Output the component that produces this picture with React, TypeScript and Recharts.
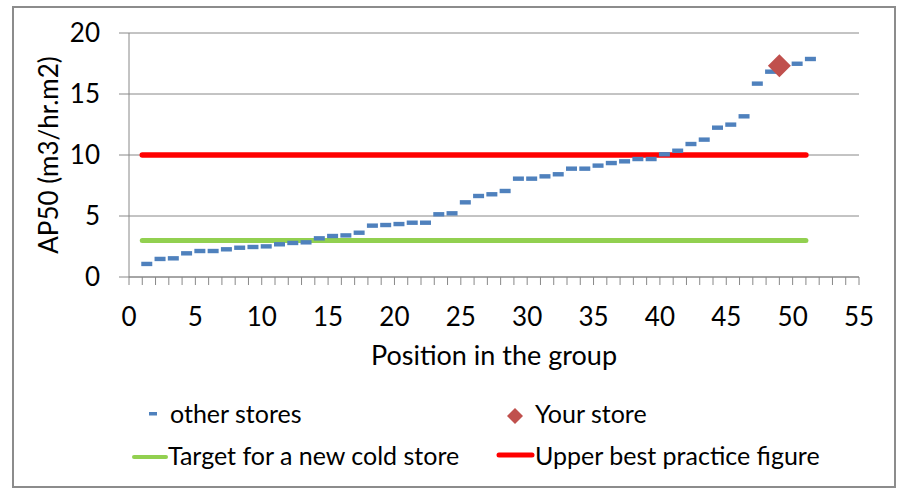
import React from 'react'
import {
  ComposedChart,
  XAxis,
  YAxis,
  CartesianGrid,
  Scatter,
  Line,
  Legend,
  Label,
} from 'recharts'

// position in the group -> AP50 (m3/hr.m2)
const positions = [
  1, 2, 3, 4, 5, 6, 7, 8, 9, 10, 11, 12, 13, 14, 15, 16, 17, 18, 19, 20, 21,
  22, 23, 24, 25, 26, 27, 28, 29, 30, 31, 32, 33, 34, 35, 36, 37, 38, 39, 40,
  41, 42, 43, 44, 45, 46, 47, 48, 50, 51,
]
const otherStores = [
  1.07, 1.48, 1.53, 1.94, 2.13, 2.13, 2.27, 2.4, 2.46, 2.51, 2.68, 2.79, 2.84,
  3.17, 3.36, 3.41, 3.63, 4.21, 4.26, 4.34, 4.45, 4.45, 5.14, 5.22, 6.12, 6.64,
  6.78, 7.05, 8.06, 8.06, 8.25, 8.42, 8.88, 8.88, 9.13, 9.34, 9.48, 9.67, 9.67,
  10.06, 10.35, 10.9, 11.26, 12.24, 12.49, 13.17, 15.85, 16.83, 17.48, 17.87,
]
const yourPosition = [49]
const yourStore = [17.32]

const lineX = [1, 51]
const targetValues = [3, 3]
const upperValues = [10, 10]

const xTicks = Array.from({ length: 56 }, (_, i) => i)
const yTicks = [0, 5, 10, 15, 20]

const BLUE = '#4F81BD'
const RED = '#FF0000'
const GREEN = '#92D050'
const DIAMOND = '#C0504D'
const GRID = '#888888'
const FONT = 'Lato, "Open Sans", sans-serif'

const otherData = positions.map((x, i) => ({ x, y: otherStores[i] }))
const yourData = yourPosition.map((x, i) => ({ x, y: yourStore[i] }))
const targetData = lineX.map((x, i) => ({ x, y: targetValues[i] }))
const upperData = lineX.map((x, i) => ({ x, y: upperValues[i] }))

const DashShape = (props: any) => {
  const { cx, cy } = props
  return <rect x={cx - 1} y={cy - 2.2} width={11} height={4.4} fill={BLUE} />
}

const DiamondShape = (props: any) => {
  const { cx, cy } = props
  const r = 11.5
  return (
    <polygon
      points={`${cx},${cy - r} ${cx + r},${cy} ${cx},${cy + r} ${cx - r},${cy}`}
      fill={DIAMOND}
    />
  )
}

const XTick = (props: any) => {
  const { x, y, payload } = props
  if (payload.value % 5 !== 0) return <g />
  return (
    <text
      x={x}
      y={y}
      dy="0.71em"
      textAnchor="middle"
      fill="#000"
      fontSize={26}
      fontFamily={FONT}
    >
      {payload.value}
    </text>
  )
}

const XTitle = (props: any) => {
  const { viewBox } = props
  return (
    <text
      x={viewBox.x + viewBox.width / 2}
      y={viewBox.y + 88}
      textAnchor="middle"
      fill="#000"
      fontSize={27}
      fontFamily={FONT}
    >
      Position in the group
    </text>
  )
}

const YTitle = (props: any) => {
  const { viewBox } = props
  const cx = 58
  const cy = viewBox.y + viewBox.height / 2
  return (
    <text
      x={cx}
      y={cy}
      transform={`rotate(-90 ${cx} ${cy})`}
      textAnchor="middle"
      fill="#000"
      fontSize={26}
      fontFamily={FONT}
    >
      AP50 (m3/hr.m2)
    </text>
  )
}

const renderLegend = () => (
  <svg width={917} height={100} style={{ display: 'block' }}>
    <g fontFamily={FONT} fontSize={25} fill="#000">
      <rect x={149} y={25} width={8} height={3.5} fill={BLUE} />
      <text x={170} y={36}>other stores</text>
      <polygon points="515,21 523,29 515,37 507,29" fill={DIAMOND} />
      <text x={535} y={36}>Your store</text>
      <line x1={134} y1={70} x2={166} y2={70} stroke={GREEN} strokeWidth={4} strokeLinecap="round" />
      <text x={168} y={78}>Target for a new cold store</text>
      <line x1={499} y1={68} x2={532} y2={68} stroke={RED} strokeWidth={5} strokeLinecap="round" />
      <text x={535} y={78}>Upper best practice figure</text>
    </g>
  </svg>
)

export default function App() {
  return (
    <div
      style={{
        position: 'absolute',
        left: 0,
        top: 0,
        width: 917,
        height: 496,
        background: '#fff',
        fontFamily: FONT,
      }}
    >
      <div
        style={{
          position: 'absolute',
          left: 12,
          top: 6,
          width: 884,
          height: 482,
          boxSizing: 'border-box',
          border: '2px solid #8c8c8c',
        }}
      />
      <div style={{ position: 'absolute', left: 0, top: 0 }}>
        <ComposedChart
          width={917}
          height={496}
          margin={{ top: 33, right: 58, left: 0, bottom: 9 }}
        >
          <CartesianGrid vertical={false} stroke={GRID} />
          <XAxis
            type="number"
            dataKey="x"
            domain={[0, 55]}
            ticks={xTicks}
            interval={0}
            height={110}
            tickSize={8}
            tickMargin={23}
            tick={<XTick />}
            axisLine={{ stroke: GRID }}
            tickLine={{ stroke: GRID }}
            allowDataOverflow
          >
            <Label content={<XTitle />} />
          </XAxis>
          <YAxis
            type="number"
            dataKey="y"
            domain={[0, 20]}
            ticks={yTicks}
            interval={0}
            width={129}
            tickSize={10}
            tickMargin={19}
            tick={{ fill: '#000', fontSize: 26, fontFamily: FONT }}
            axisLine={{ stroke: GRID }}
            tickLine={{ stroke: GRID }}
          >
            <Label content={<YTitle />} />
          </YAxis>
          <Legend
            verticalAlign="bottom"
            content={renderLegend}
            wrapperStyle={{ left: 0, width: 917, bottom: 9 }}
          />
          <Line
            data={targetData}
            dataKey="y"
            stroke={GREEN}
            strokeWidth={5}
            strokeLinecap="round"
            dot={false}
            activeDot={false}
            isAnimationActive={false}
            legendType="none"
          />
          <Line
            data={upperData}
            dataKey="y"
            stroke={RED}
            strokeWidth={5.5}
            strokeLinecap="round"
            dot={false}
            activeDot={false}
            isAnimationActive={false}
            legendType="none"
          />
          <Scatter
            data={otherData}
            dataKey="y"
            shape={<DashShape />}
            isAnimationActive={false}
          />
          <Scatter
            data={yourData}
            dataKey="y"
            shape={<DiamondShape />}
            isAnimationActive={false}
          />
        </ComposedChart>
      </div>
    </div>
  )
}
